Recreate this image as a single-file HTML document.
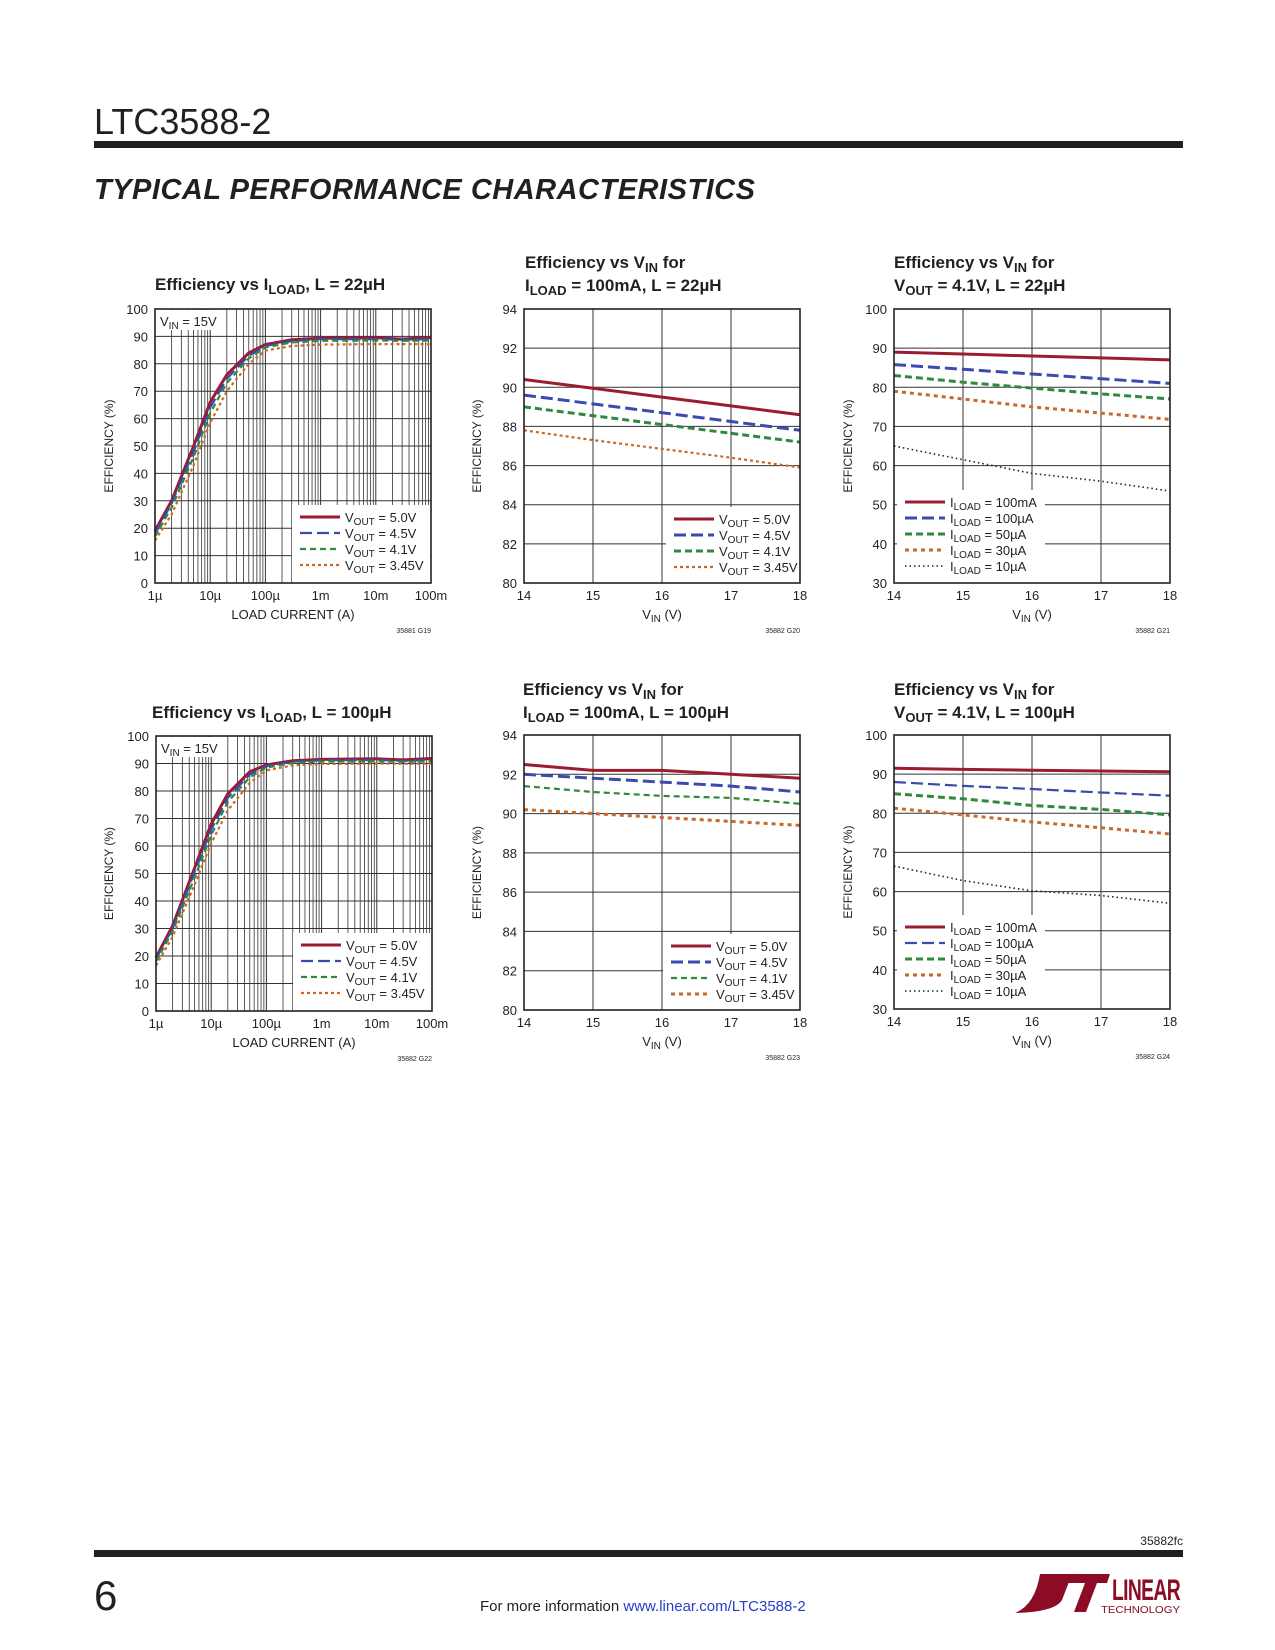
<!DOCTYPE html>
<html><head><meta charset="utf-8"><style>
body{margin:0;background:#fff;}
svg{display:block;font-family:"Liberation Sans Narrow","Liberation Sans",sans-serif;}
</style></head><body>
<svg id="pg" width="1275" height="1650" viewBox="0 0 1275 1650" xmlns="http://www.w3.org/2000/svg">
<text x="94" y="134" font-family="Liberation Sans" font-size="36" fill="#231f20">LTC3588-2</text>
<rect x="94" y="141" width="1089" height="7" fill="#231f20"/>
<text x="94" y="199" font-family="Liberation Sans" font-weight="bold" font-style="italic" font-size="29" fill="#231f20" letter-spacing="0.5">TYPICAL PERFORMANCE CHARACTERISTICS</text>
<text x="1183" y="1545" text-anchor="end" font-size="12" fill="#231f20">35882fc</text>
<rect x="94" y="1550" width="1089" height="7" fill="#231f20"/>
<text x="94" y="1610" font-family="Liberation Sans" font-size="42" fill="#231f20">6</text>
<text x="480" y="1611" font-size="15" fill="#231f20">For more information <tspan fill="#2a3cc8">www.linear.com/LTC3588-2</tspan></text>
<g>
<path d="M1040 1574 L1072 1574 L1062 1600 Q1055 1612 1015 1613 Q1035 1605 1040 1574 Z" fill="#8b0c24"/>
<path d="M1070 1574 L1110 1574 L1107 1583 L1097 1583 L1086 1612 L1074 1612 L1085 1583 L1067 1583 Z" fill="#8b0c24"/>
<text x="1112" y="1600" font-size="30" font-weight="bold" fill="#8b0c24" letter-spacing="-1" textLength="68" lengthAdjust="spacingAndGlyphs">LINEAR</text>
<text x="1101" y="1613" font-size="10" fill="#8b0c24" textLength="79" lengthAdjust="spacingAndGlyphs">TECHNOLOGY</text>
</g>
</svg>
<script>
// ---- data ----
const logX = [1e-6,2e-6,5e-6,1e-5,2e-5,5e-5,1e-4,3e-4,1e-3,1e-2,3e-2,1e-1];
const g19_v50 = [19,30,50,66,76,84,87,88.8,89.3,89.5,89,89.6];
const g19_v45 = [18,29,48,64,74.5,83,86.5,88.3,89,89,88.8,89];
const g19_v41 = [17,27.5,46,62,73,82,86,87.8,88.4,88.5,88.4,88.5];
const g19_v345 = [15.5,25,43,58.5,70,80,84.8,86.5,87,87.2,87.2,87.2];
const g22_v50 = [19.5,31,52,68,79,87,89.5,91,91.5,91.7,91.3,91.8];
const g22_v45 = [19,30,50.5,66,77.5,86,89,90.7,91.2,91.3,91,91.3];
const g22_v41 = [18,29,48.5,64,76,85,88.5,90.2,90.7,90.8,90.6,90.8];
const g22_v345 = [16.5,27,46,61,73,83,87.5,89.3,89.8,90,89.9,90];
const vinX = [14,15,16,17,18];
const g20_v50 = [90.4,89.95,89.5,89.05,88.6];
const g20_v45 = [89.6,89.15,88.7,88.25,87.8];
const g20_v41 = [89.0,88.55,88.1,87.65,87.2];
const g20_v345 = [87.8,87.3,86.85,86.4,85.9];
const g21_100m = [89,88.5,88,87.5,87];
const g21_100u = [85.8,84.6,83.4,82.2,81];
const g21_50u = [83,81.3,79.8,78.3,77];
const g21_30u = [79,77,75,73.4,71.8];
const g21_10u = [65,61.5,58,56,53.5];
const g23_v50 = [92.5,92.2,92.2,92.0,91.8];
const g23_v45 = [92,91.8,91.6,91.4,91.1];
const g23_v41 = [91.4,91.1,90.9,90.8,90.5];
const g23_v345 = [90.2,90,89.8,89.6,89.4];
const g24_100m = [91.5,91.2,91,90.8,90.6];
const g24_100u = [88,87,86.2,85.3,84.5];
const g24_50u = [85,83.7,82,81,79.6];
const g24_30u = [81.3,79.6,77.8,76.3,74.7];
const g24_10u = [66.5,62.8,60.2,59,57];
const yTicks100 = [0,10,20,30,40,50,60,70,80,90,100];
const yTicks30 = [30,40,50,60,70,80,90,100];
const yTicks80 = [80,82,84,86,88,90,92,94];
const logLabels = ["1µ","10µ","100µ","1m","10m","100m"];
const vinLabels = ["14","15","16","17","18"];

const NS="http://www.w3.org/2000/svg";
const pg=document.getElementById('pg');
function mk(tag,attrs,parent){const e=document.createElementNS(NS,tag);for(const k in attrs)e.setAttribute(k,attrs[k]);(parent||pg).appendChild(e);return e;}
const ST={
 red:{stroke:"#9b1b30",w:3,dash:""},
 blue:{stroke:"#3a4ab0",w:2.2,dash:"12,5"},
 blueB:{stroke:"#3a4ab0",w:3,dash:"12,5"},
 green:{stroke:"#2f8a3e",w:2.2,dash:"6,4"},
 greenB:{stroke:"#2f8a3e",w:3,dash:"7,4"},
 orange:{stroke:"#c8692a",w:2.2,dash:"3,3"},
 orangeB:{stroke:"#c8692a",w:3,dash:"4,4"},
 dot:{stroke:"#222",w:1.6,dash:"1.5,3"}
};
function chart(c){
 const g=mk('g',{});
 
 
 const L=c.x,T=c.y,W=c.w,H=c.h;
 const sx = c.log ? v=>L+(Math.log10(v)-Math.log10(c.xmin))/(Math.log10(c.xmax)-Math.log10(c.xmin))*W
                  : v=>L+(v-c.xmin)/(c.xmax-c.xmin)*W;
 const sy = v=>T+H-(v-c.ymin)/(c.ymax-c.ymin)*H;
 // titles
 c.title.forEach((t,i)=>{const e=mk('text',{x:c.tx,y:c.ty+i*23,'font-size':17,'font-weight':'bold',fill:'#231f20'},g);e.innerHTML=t;
  });
 // grid
 if(c.log){
  for(let d=-6;d<-1;d++)for(let m=1;m<10;m++){const x=sx(m*Math.pow(10,d));
   const l=mk('line',{x1:x,x2:x,y1:T,y2:T+H,stroke:'#333','stroke-width':m==1?1:0.8},g);
   }
 } else {
  for(let v=c.xmin;v<=c.xmax;v++){const x=sx(v);const l=mk('line',{x1:x,x2:x,y1:T,y2:T+H,stroke:'#333','stroke-width':1},g);
   }
 }
 c.yt.forEach(v=>{const y=sy(v);const l=mk('line',{x1:L,x2:L+W,y1:y,y2:y,stroke:'#333','stroke-width':1},g);
  
  const t=mk('text',{x:L-7,y:y+5,'text-anchor':'end','font-size':13,fill:'#231f20'},g);t.textContent=v;
  });
 const xl=c.log?[1e-6,1e-5,1e-4,1e-3,1e-2,1e-1]:vinX;
 xl.forEach((v,i)=>{const t=mk('text',{x:sx(v),y:T+H+17,'text-anchor':'middle','font-size':13,fill:'#231f20'},g);t.textContent=c.xlab[i];
  });
 // legend bg
 if(c.leg){const r=mk('rect',{x:c.leg.x,y:c.leg.y,width:c.leg.w,height:T+H-c.leg.y,fill:'#fff'},g);
  }
 if(c.vin){const r=mk('rect',{x:L+1,y:T+1,width:58,height:20,fill:'#fff'},g);
  const t=mk('text',{x:L+5,y:T+17,'font-size':13,fill:'#231f20'},g);t.innerHTML='V<tspan font-size="10" dy="3">IN</tspan><tspan dy="-3"> = 15V</tspan>';
  }
 // series
 const xs=c.log?logX:vinX;
 c.series.forEach((s,i)=>{const st=ST[s.st];
  const d=s.data.map((v,j)=>(j?'L':'M')+sx(xs[j]).toFixed(1)+' '+sy(v).toFixed(1)).join(' ');
  const p=mk('path',{d:d,fill:'none',stroke:st.stroke,'stroke-width':st.w,'stroke-dasharray':st.dash},g);
  
  if(c.leg){const ly=c.leg.y+12+i*16;
   const ll=mk('line',{x1:c.leg.x+8,x2:c.leg.x+48,y1:ly,y2:ly,stroke:st.stroke,'stroke-width':st.w,'stroke-dasharray':st.dash},g);
   
   const t=mk('text',{x:c.leg.x+53,y:ly+5,'font-size':13,fill:'#231f20'},g);t.innerHTML=s.lab;
   }
 });
 const fr=mk('rect',{x:L,y:T,width:W,height:H,fill:'none',stroke:'#231f20','stroke-width':1.6},g);
 
 const yt=mk('text',{x:0,y:0,'font-size':12,fill:'#231f20','text-anchor':'middle',transform:`translate(${c.yax},${T+H/2}) rotate(-90)`},g);
 yt.textContent='EFFICIENCY (%)';
 const xt=mk('text',{x:L+W/2,y:T+H+36,'font-size':13,fill:'#231f20','text-anchor':'middle'},g);
 xt.innerHTML=c.log?'LOAD CURRENT (A)':'V<tspan font-size="10" dy="3">IN</tspan><tspan dy="-3"> (V)</tspan>';
 
 const fc=mk('text',{x:L+W,y:T+H+50,'font-size':7,fill:'#231f20','text-anchor':'end'},g);fc.textContent=c.code;
 
}
const sub=(a,b)=>`${a}<tspan font-size="10" dy="3">${b}</tspan><tspan dy="-3">`;
const vo=v=>sub('V','OUT')+' = '+v+'</tspan>';
const il=v=>sub('I','LOAD')+' = '+v+'</tspan>';
const big=(a,b)=>`${a}<tspan font-size="13" dy="4">${b}</tspan><tspan dy="-4">`;
chart({name:'chart-efficiency-vs-iload-22uh',x:155,y:309,w:276,h:274,log:true,xmin:1e-6,xmax:0.1,ymin:0,ymax:100,yt:yTicks100,xlab:logLabels,vin:true,
 tx:155,ty:290,title:[big('Efficiency vs I','LOAD')+', L = 22µH</tspan>'],yax:113,code:'35881 G19',
 leg:{x:292,y:505,w:138},
 series:[{key:'vout-5v',st:'red',data:g19_v50,lab:vo('5.0V')},{key:'vout-4v5',st:'blue',data:g19_v45,lab:vo('4.5V')},{key:'vout-4v1',st:'green',data:g19_v41,lab:vo('4.1V')},{key:'vout-3v45',st:'orange',data:g19_v345,lab:vo('3.45V')}]});
chart({name:'chart-efficiency-vs-vin-100ma-22uh',x:524,y:309,w:276,h:274,log:false,xmin:14,xmax:18,ymin:80,ymax:94,yt:yTicks80,xlab:vinLabels,
 tx:525,ty:268,title:[big('Efficiency  vs V','IN')+' for</tspan>',big('I','LOAD')+' = 100mA, L = 22µH</tspan>'],yax:481,code:'35882 G20',
 leg:{x:666,y:507,w:134},
 series:[{key:'vout-5v',st:'red',data:g20_v50,lab:vo('5.0V')},{key:'vout-4v5',st:'blueB',data:g20_v45,lab:vo('4.5V')},{key:'vout-4v1',st:'greenB',data:g20_v41,lab:vo('4.1V')},{key:'vout-3v45',st:'orange',data:g20_v345,lab:vo('3.45V')}]});
chart({name:'chart-efficiency-vs-vin-4v1-22uh',x:894,y:309,w:276,h:274,log:false,xmin:14,xmax:18,ymin:30,ymax:100,yt:yTicks30,xlab:vinLabels,
 tx:894,ty:268,title:[big('Efficiency vs V','IN')+' for</tspan>',big('V','OUT')+' = 4.1V, L = 22µH</tspan>'],yax:852,code:'35882 G21',
 leg:{x:897,y:490,w:148},
 series:[{key:'iload-100ma',st:'red',data:g21_100m,lab:il('100mA')},{key:'iload-100ua',st:'blueB',data:g21_100u,lab:il('100µA')},{key:'iload-50ua',st:'greenB',data:g21_50u,lab:il('50µA')},{key:'iload-30ua',st:'orangeB',data:g21_30u,lab:il('30µA')},{key:'iload-10ua',st:'dot',data:g21_10u,lab:il('10µA')}]});
chart({name:'chart-efficiency-vs-iload-100uh',x:156,y:736,w:276,h:275,log:true,xmin:1e-6,xmax:0.1,ymin:0,ymax:100,yt:yTicks100,xlab:logLabels,vin:true,
 tx:152,ty:718,title:[big('Efficiency vs I','LOAD')+', L = 100µH</tspan>'],yax:113,code:'35882 G22',
 leg:{x:293,y:933,w:139},
 series:[{key:'vout-5v',st:'red',data:g22_v50,lab:vo('5.0V')},{key:'vout-4v5',st:'blue',data:g22_v45,lab:vo('4.5V')},{key:'vout-4v1',st:'green',data:g22_v41,lab:vo('4.1V')},{key:'vout-3v45',st:'orange',data:g22_v345,lab:vo('3.45V')}]});
chart({name:'chart-efficiency-vs-vin-100ma-100uh',x:524,y:735,w:276,h:275,log:false,xmin:14,xmax:18,ymin:80,ymax:94,yt:yTicks80,xlab:vinLabels,
 tx:523,ty:695,title:[big('Efficiency vs V','IN')+' for</tspan>',big('I','LOAD')+' = 100mA, L = 100µH</tspan>'],yax:481,code:'35882 G23',
 leg:{x:663,y:934,w:137},
 series:[{key:'vout-5v',st:'red',data:g23_v50,lab:vo('5.0V')},{key:'vout-4v5',st:'blueB',data:g23_v45,lab:vo('4.5V')},{key:'vout-4v1',st:'green',data:g23_v41,lab:vo('4.1V')},{key:'vout-3v45',st:'orangeB',data:g23_v345,lab:vo('3.45V')}]});
chart({name:'chart-efficiency-vs-vin-4v1-100uh',x:894,y:735,w:276,h:274,log:false,xmin:14,xmax:18,ymin:30,ymax:100,yt:yTicks30,xlab:vinLabels,
 tx:894,ty:695,title:[big('Efficiency vs V','IN')+' for</tspan>',big('V','OUT')+' = 4.1V, L = 100µH</tspan>'],yax:852,code:'35882 G24',
 leg:{x:897,y:915,w:148},
 series:[{key:'iload-100ma',st:'red',data:g24_100m,lab:il('100mA')},{key:'iload-100ua',st:'blue',data:g24_100u,lab:il('100µA')},{key:'iload-50ua',st:'greenB',data:g24_50u,lab:il('50µA')},{key:'iload-30ua',st:'orangeB',data:g24_30u,lab:il('30µA')},{key:'iload-10ua',st:'dot',data:g24_10u,lab:il('10µA')}]});
</script>
</body></html>
